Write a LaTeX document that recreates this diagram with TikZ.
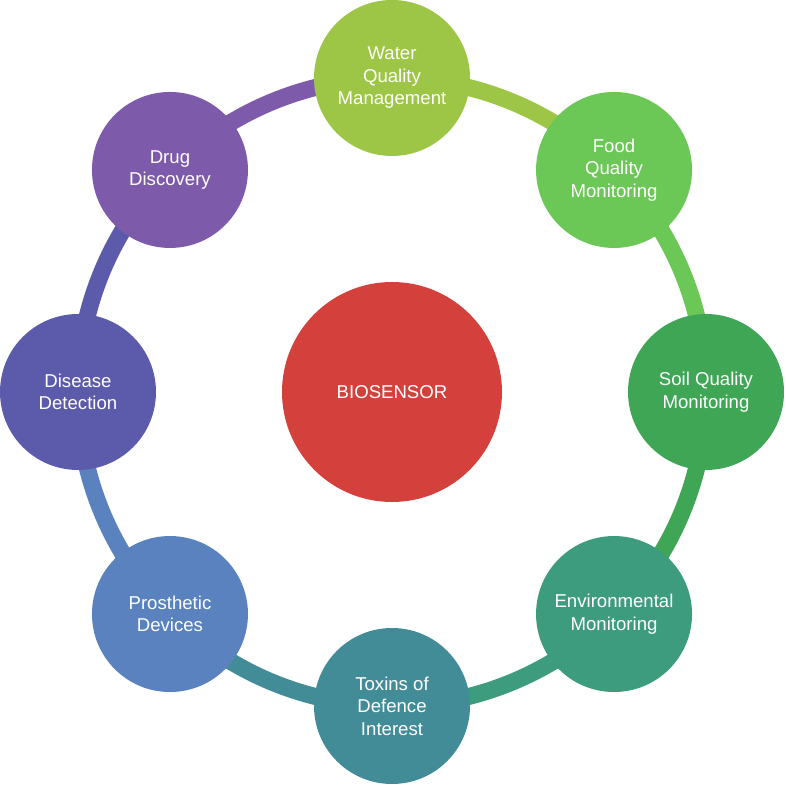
\documentclass[tikz,border=0pt]{standalone}
\usepackage{fontspec}
\setmainfont{Liberation Sans}
\usetikzlibrary{backgrounds}
\definecolor{cWater}{HTML}{9DC646}
\definecolor{cFood}{HTML}{6CC856}
\definecolor{cSoil}{HTML}{3EA655}
\definecolor{cEnv}{HTML}{3E9C7E}
\definecolor{cTox}{HTML}{428C98}
\definecolor{cPros}{HTML}{5A82BE}
\definecolor{cDis}{HTML}{5C5AAA}
\definecolor{cDrug}{HTML}{7E5AAA}
\definecolor{cCore}{HTML}{D4413C}
\begin{document}
\begin{tikzpicture}[x=1pt,y=1pt,
  bubble/.style={circle, minimum size=156pt, inner sep=0pt, text=white, align=center,
    font=\fontsize{18.6}{22.5}\selectfont},
  core/.style={circle, minimum size=220pt, inner sep=0pt, text=white, align=center,
    font=\fontsize{18.6}{22.5}\selectfont},
  ring/.style={line width=17pt}]
\useasboundingbox (0,0) rectangle (785,785);
\coordinate (c) at (392,393);
\node[core, fill=cCore] (bio) at (c) {BIOSENSOR};
\node[bubble, fill=cWater] (water) at ([shift={(90:314)}]c) {Water\\Quality\\Management};
\node[bubble, fill=cFood] (food) at ([shift={(45:314)}]c) {Food\\Quality\\Monitoring};
\node[bubble, fill=cSoil] (soil) at ([shift={(0:314)}]c) {Soil Quality\\Monitoring};
\node[bubble, fill=cEnv] (env) at ([shift={(-45:314)}]c) {Environmental\\Monitoring};
\node[bubble, fill=cTox] (tox) at ([shift={(-90:314)}]c) {Toxins of\\Defence\\Interest};
\node[bubble, fill=cPros] (pros) at ([shift={(-135:314)}]c) {Prosthetic\\Devices};
\node[bubble, fill=cDis] (dis) at ([shift={(180:314)}]c) {Disease\\Detection};
\node[bubble, fill=cDrug] (drug) at ([shift={(135:314)}]c) {Drug\\Discovery};
\begin{scope}[on background layer]
\draw[ring, cWater] (water.center) arc[start angle=90, end angle=45, radius=314];
\draw[ring, cFood] (food.center) arc[start angle=45, end angle=0, radius=314];
\draw[ring, cSoil] (soil.center) arc[start angle=0, end angle=-45, radius=314];
\draw[ring, cEnv] (env.center) arc[start angle=-45, end angle=-90, radius=314];
\draw[ring, cTox] (tox.center) arc[start angle=-90, end angle=-135, radius=314];
\draw[ring, cPros] (pros.center) arc[start angle=-135, end angle=-180, radius=314];
\draw[ring, cDis] (dis.center) arc[start angle=180, end angle=135, radius=314];
\draw[ring, cDrug] (drug.center) arc[start angle=135, end angle=90, radius=314];
\end{scope}
\end{tikzpicture}
\end{document}
